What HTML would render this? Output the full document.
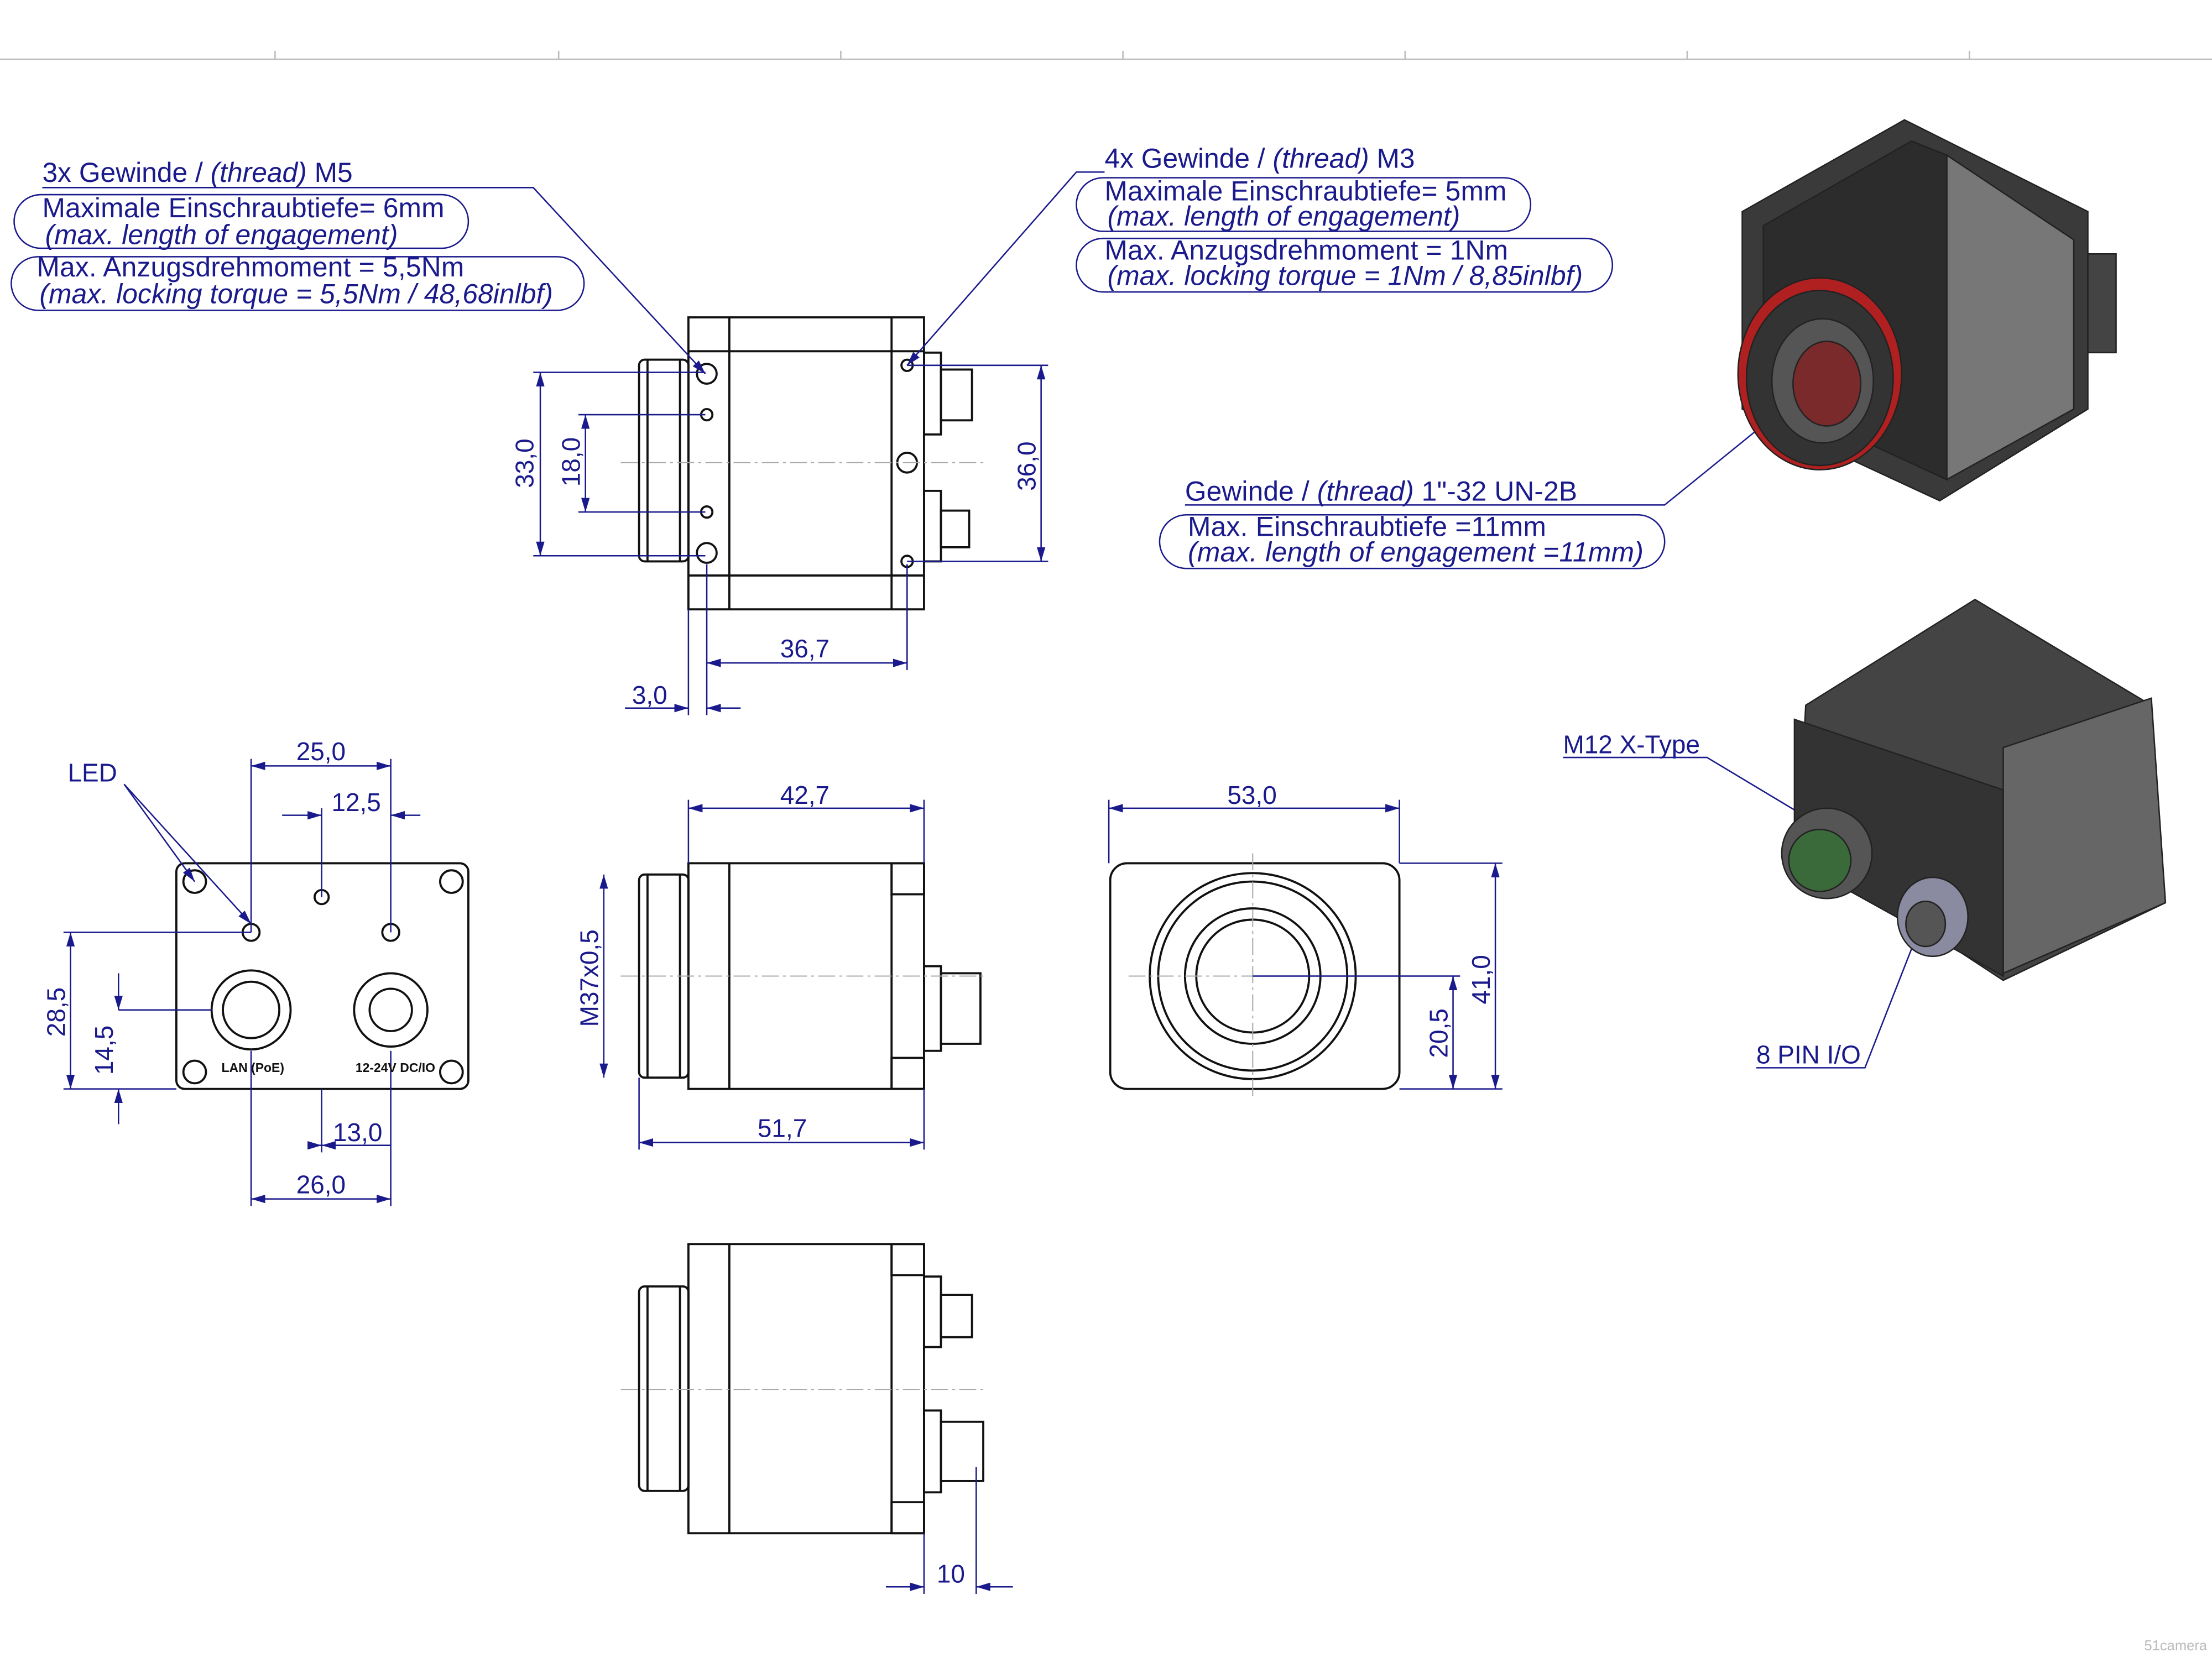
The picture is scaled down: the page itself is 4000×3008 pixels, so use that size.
<!DOCTYPE html>
<html><head><meta charset="utf-8"><style>html,body{margin:0;padding:0;background:#fff}svg{display:block}</style></head>
<body>
<svg width="4000" height="3008" viewBox="0 0 1568 1179" preserveAspectRatio="none" xmlns="http://www.w3.org/2000/svg" font-family="Liberation Sans, sans-serif">
<defs><marker id="a" viewBox="0 0 10 6" refX="10" refY="3" markerWidth="10" markerHeight="6" markerUnits="userSpaceOnUse" orient="auto-start-reverse"><path d="M0,0 L10,3 L0,6z" fill="#1a1a8c"/></marker></defs>
<rect width="1568" height="1179" fill="#fff"/>
<g stroke="#bbb" stroke-width="1"><line x1="0" y1="42" x2="1568" y2="42"/>
<line x1="195" y1="36" x2="195" y2="42"/><line x1="396" y1="36" x2="396" y2="42"/><line x1="596" y1="36" x2="596" y2="42"/><line x1="796" y1="36" x2="796" y2="42"/><line x1="996" y1="36" x2="996" y2="42"/><line x1="1196" y1="36" x2="1196" y2="42"/><line x1="1396" y1="36" x2="1396" y2="42"/></g>

<g fill="none" stroke="#111" stroke-width="1.5">
<rect x="488" y="225" width="167" height="207"/>
<line x1="517" y1="225" x2="517" y2="432"/><line x1="632" y1="225" x2="632" y2="432"/>
<line x1="488" y1="249" x2="655" y2="249"/><line x1="488" y1="408" x2="655" y2="408"/>
<rect x="453" y="255" width="35" height="143" rx="4"/><line x1="459" y1="255" x2="459" y2="398"/><line x1="482" y1="255" x2="482" y2="398"/>
<circle cx="501" cy="265" r="7"/><circle cx="501" cy="294" r="4"/><circle cx="501" cy="363" r="4"/><circle cx="501" cy="392" r="7"/>
<circle cx="643" cy="259" r="4"/><circle cx="643" cy="328" r="7"/><circle cx="643" cy="398" r="4"/>
<rect x="655" y="250" width="12" height="58"/><rect x="667" y="262" width="22" height="36"/>
<rect x="655" y="348" width="12" height="50"/><rect x="667" y="362" width="20" height="26"/>
<rect x="488" y="612" width="167" height="160"/>
<line x1="517" y1="612" x2="517" y2="772"/><line x1="632" y1="612" x2="632" y2="772"/>
<rect x="632" y="612" width="23" height="22"/><rect x="632" y="750" width="23" height="22"/>
<rect x="453" y="620" width="35" height="144" rx="4"/><line x1="459" y1="620" x2="459" y2="764"/><line x1="482" y1="620" x2="482" y2="764"/>
<rect x="655" y="685" width="12" height="60"/><rect x="667" y="690" width="28" height="50"/>
<rect x="488" y="882" width="167" height="205"/>
<line x1="517" y1="882" x2="517" y2="1087"/><line x1="632" y1="882" x2="632" y2="1087"/>
<rect x="632" y="882" width="23" height="22"/><rect x="632" y="1065" width="23" height="22"/>
<rect x="453" y="912" width="35" height="145" rx="4"/><line x1="459" y1="912" x2="459" y2="1057"/><line x1="482" y1="912" x2="482" y2="1057"/>
<rect x="655" y="905" width="12" height="50"/><rect x="667" y="918" width="22" height="30"/>
<rect x="655" y="1000" width="12" height="58"/><rect x="667" y="1008" width="30" height="42"/>
<rect x="125" y="612" width="207" height="160" rx="6"/>
<circle cx="138" cy="625" r="8"/><circle cx="320" cy="625" r="8"/><circle cx="138" cy="760" r="8"/><circle cx="320" cy="760" r="8"/>
<circle cx="178" cy="661" r="6"/><circle cx="228" cy="636" r="5"/><circle cx="277" cy="661" r="6"/>
<circle cx="178" cy="716" r="28"/><circle cx="178" cy="716" r="20"/><circle cx="277" cy="716" r="26"/><circle cx="277" cy="716" r="15"/>
<rect x="787" y="612" width="205" height="160" rx="12"/>
<circle cx="888" cy="692" r="73"/><circle cx="888" cy="692" r="67"/><circle cx="888" cy="692" r="48"/><circle cx="888" cy="692" r="40"/>
</g>
<g stroke="#aaa" stroke-width="0.8" stroke-dasharray="12,3,2,3"><line x1="440" y1="328" x2="700" y2="328"/><line x1="440" y1="692" x2="700" y2="692"/><line x1="440" y1="985" x2="700" y2="985"/><line x1="800" y1="692" x2="980" y2="692"/><line x1="888" y1="605" x2="888" y2="780"/></g>

<g stroke="#1a1a8c" stroke-width="1" fill="none">
<line x1="383" y1="264" x2="383" y2="394" marker-start="url(#a)" marker-end="url(#a)"/><line x1="378" y1="264" x2="500" y2="264"/><line x1="378" y1="394" x2="500" y2="394"/>
<line x1="415" y1="294" x2="415" y2="363" marker-start="url(#a)" marker-end="url(#a)"/><line x1="410" y1="294" x2="500" y2="294"/><line x1="410" y1="363" x2="500" y2="363"/>
<line x1="738" y1="259" x2="738" y2="398" marker-start="url(#a)" marker-end="url(#a)"/><line x1="643" y1="259" x2="743" y2="259"/><line x1="643" y1="398" x2="743" y2="398"/>
<line x1="501" y1="470" x2="643" y2="470" marker-start="url(#a)" marker-end="url(#a)"/><line x1="501" y1="400" x2="501" y2="507"/><line x1="643" y1="400" x2="643" y2="475"/>
<line x1="443" y1="502" x2="488" y2="502" marker-end="url(#a)"/><line x1="525" y1="502" x2="501" y2="502" marker-end="url(#a)"/><line x1="488" y1="432" x2="488" y2="507"/>
<line x1="488" y1="573" x2="655" y2="573" marker-start="url(#a)" marker-end="url(#a)"/><line x1="488" y1="567" x2="488" y2="612"/><line x1="655" y1="567" x2="655" y2="612"/>
<line x1="453" y1="810" x2="655" y2="810" marker-start="url(#a)" marker-end="url(#a)"/><line x1="453" y1="764" x2="453" y2="815"/><line x1="655" y1="772" x2="655" y2="815"/>
<line x1="428" y1="620" x2="428" y2="764" marker-start="url(#a)" marker-end="url(#a)"/>
<line x1="786" y1="573" x2="992" y2="573" marker-start="url(#a)" marker-end="url(#a)"/><line x1="786" y1="567" x2="786" y2="612"/><line x1="992" y1="567" x2="992" y2="612"/>
<line x1="1060" y1="612" x2="1060" y2="772" marker-start="url(#a)" marker-end="url(#a)"/><line x1="992" y1="612" x2="1065" y2="612"/><line x1="992" y1="772" x2="1065" y2="772"/>
<line x1="1030" y1="692" x2="1030" y2="772" marker-start="url(#a)" marker-end="url(#a)"/><line x1="888" y1="692" x2="1035" y2="692"/>
<line x1="178" y1="543" x2="277" y2="543" marker-start="url(#a)" marker-end="url(#a)"/><line x1="178" y1="538" x2="178" y2="661"/><line x1="277" y1="538" x2="277" y2="661"/>
<line x1="200" y1="578" x2="228" y2="578" marker-end="url(#a)"/><line x1="298" y1="578" x2="277" y2="578" marker-end="url(#a)"/><line x1="228" y1="573" x2="228" y2="636"/>
<line x1="50" y1="661" x2="50" y2="772" marker-start="url(#a)" marker-end="url(#a)"/><line x1="45" y1="661" x2="178" y2="661"/><line x1="45" y1="772" x2="125" y2="772"/>
<line x1="84" y1="690" x2="84" y2="716" marker-end="url(#a)"/><line x1="84" y1="797" x2="84" y2="772" marker-end="url(#a)"/><line x1="84" y1="716" x2="150" y2="716"/>
<line x1="218" y1="812" x2="228" y2="812" marker-end="url(#a)"/><line x1="228" y1="812" x2="277" y2="812" marker-start="url(#a)"/><line x1="228" y1="772" x2="228" y2="817"/><line x1="277" y1="745" x2="277" y2="855"/>
<line x1="178" y1="850" x2="277" y2="850" marker-start="url(#a)" marker-end="url(#a)"/><line x1="178" y1="745" x2="178" y2="855"/>
<line x1="628" y1="1125" x2="655" y2="1125" marker-end="url(#a)"/><line x1="718" y1="1125" x2="692" y2="1125" marker-end="url(#a)"/><line x1="655" y1="1087" x2="655" y2="1130"/><line x1="692" y1="1040" x2="692" y2="1130"/>
<polyline points="30,133 378,133 500,265" marker-end="url(#a)"/><polyline points="783,122 763,122 643,259" marker-end="url(#a)"/><polyline points="840,358 1180,358 1270,285" marker-end="url(#a)"/>
<polyline points="1108,537 1210,537 1290,585" marker-end="url(#a)"/><polyline points="1245,757 1322,757 1360,660" marker-end="url(#a)"/>
<line x1="88" y1="556" x2="138" y2="625" marker-end="url(#a)"/><line x1="88" y1="556" x2="178" y2="655" marker-end="url(#a)"/>
<rect x="10" y="138" width="322" height="38" rx="19"/><rect x="8" y="182" width="406" height="38" rx="19"/>
<rect x="763" y="126" width="322" height="38" rx="19"/><rect x="763" y="169" width="380" height="38" rx="19"/>
<rect x="822" y="365" width="358" height="38" rx="19"/>
</g>
<g fill="#1a1a8c" font-size="18">
<g font-size="19.5">
<text x="30" y="129">3x Gewinde / <tspan font-style="italic">(thread)</tspan>  M5</text>
<text x="30" y="154" textLength="285">Maximale Einschraubtiefe= 6mm</text><text x="32" y="173" font-style="italic" textLength="250">(max. length of engagement)</text>
<text x="26" y="196" textLength="303">Max. Anzugsdrehmoment = 5,5Nm</text><text x="28" y="215" font-style="italic" textLength="364">(max. locking torque = 5,5Nm / 48,68inlbf)</text>
<text x="783" y="119">4x Gewinde / <tspan font-style="italic">(thread)</tspan>  M3</text>
<text x="783" y="142" textLength="285">Maximale Einschraubtiefe= 5mm</text><text x="785" y="160" font-style="italic" textLength="250">(max. length of engagement)</text>
<text x="783" y="184" textLength="286">Max. Anzugsdrehmoment = 1Nm</text><text x="785" y="202" font-style="italic" textLength="337">(max. locking torque = 1Nm / 8,85inlbf)</text>
<text x="840" y="355" textLength="278">Gewinde / <tspan font-style="italic">(thread)</tspan> 1"-32 UN-2B</text>
<text x="842" y="380" textLength="254">Max. Einschraubtiefe =11mm</text><text x="842" y="398" font-style="italic" textLength="323">(max. length of engagement =11mm)</text>
</g>
<text x="1108" y="534">M12 X-Type</text><text x="1245" y="754">8 PIN I/O</text><text x="48" y="554">LED</text>
<text x="553" y="466">36,7</text><text x="448" y="499">3,0</text><text x="553" y="570">42,7</text><text x="537" y="806">51,7</text>
<text x="870" y="570">53,0</text><text x="210" y="539">25,0</text><text x="235" y="575">12,5</text><text x="236" y="809">13,0</text><text x="210" y="846">26,0</text><text x="664" y="1122">10</text>
<text transform="translate(378,346) rotate(-90)">33,0</text><text transform="translate(411,345) rotate(-90)">18,0</text>
<text transform="translate(734,348) rotate(-90)">36,0</text><text transform="translate(424,728) rotate(-90)">M37x0,5</text>
<text transform="translate(1056,712) rotate(-90)">41,0</text><text transform="translate(1026,750) rotate(-90)">20,5</text>
<text transform="translate(46,735) rotate(-90)">28,5</text><text transform="translate(80,762) rotate(-90)">14,5</text>
</g>
<g font-size="9" fill="#111" font-weight="bold"><text x="157" y="760">LAN (PoE)</text><text x="252" y="760">12-24V DC/IO</text></g>

<g stroke="#222" stroke-width="1">
<polygon points="1235,150 1350,85 1480,150 1480,290 1375,355 1235,290" fill="#3a3a3a"/>
<polygon points="1380,110 1470,170 1470,290 1380,340" fill="#777"/>
<polygon points="1250,160 1355,100 1380,110 1380,340 1250,280" fill="#2c2c2c"/>
<ellipse cx="1290" cy="265" rx="58" ry="68" fill="#b02020"/>
<ellipse cx="1290" cy="268" rx="52" ry="62" fill="#333"/>
<ellipse cx="1292" cy="270" rx="36" ry="44" fill="#555"/>
<ellipse cx="1295" cy="272" rx="24" ry="30" fill="#7a2a2a"/>
<rect x="1480" y="180" width="20" height="70" fill="#444"/>
</g>
<g stroke="#222" stroke-width="1">
<polygon points="1280,500 1400,425 1525,500 1535,640 1420,695 1275,600" fill="#444"/>
<polygon points="1420,530 1525,495 1535,640 1420,690" fill="#666"/>
<polygon points="1272,510 1420,560 1420,692 1272,610" fill="#333"/>
<circle cx="1295" cy="605" r="32" fill="#555"/><circle cx="1290" cy="610" r="22" fill="#3a6a3a"/>
<ellipse cx="1370" cy="650" rx="25" ry="28" fill="#8a8aa0"/><ellipse cx="1365" cy="655" rx="14" ry="16" fill="#555"/>
</g>
<text x="1520" y="1170" font-size="10" fill="#bbb">51camera</text>
</svg>
</body></html>
